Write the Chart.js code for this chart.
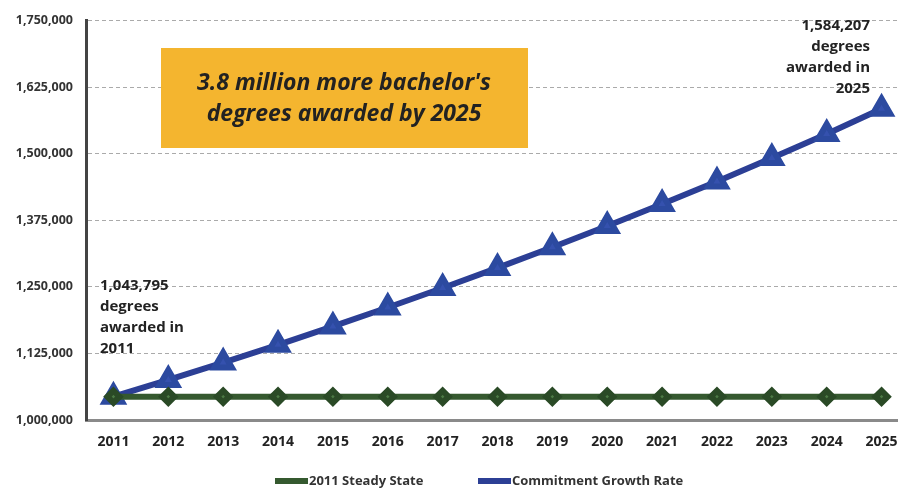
<!DOCTYPE html>
<html>
<head>
<meta charset="utf-8">
<script src="https://cdn.jsdelivr.net/npm/chart.js@4.4.0/dist/chart.umd.min.js"></script>
<style>
  html, body { margin: 0; padding: 0; background: #fff; overflow: hidden; }
  #wrap { width: 898px; height: 489px; overflow: hidden; }
</style>
</head>
<body>
<div id="wrap"><canvas id="line-degrees" width="925" height="489"></canvas></div>
<script>
var years = ["2011", "2012", "2013", "2014", "2015", "2016", "2017", "2018",
             "2019", "2020", "2021", "2022", "2023", "2024", "2025"];

var steadyState = [1043795, 1043795, 1043795, 1043795, 1043795, 1043795, 1043795, 1043795,
                   1043795, 1043795, 1043795, 1043795, 1043795, 1043795, 1043795];

var growthRate = [1043795, 1075300, 1107800, 1141200, 1175700, 1211200, 1247800, 1285500,
                  1324300, 1364300, 1405500, 1447900, 1491700, 1536700, 1584207];

var boxText = ["3.8 million more bachelor's", "degrees awarded by 2025"];
var startNote = ["1,043,795", "degrees", "awarded in", "2011"];
var endNote = ["1,584,207", "degrees", "awarded in", "2025"];

var FONT = "'Open Sans', sans-serif";

// callout box, the two notes and the legend at the bottom
var notes = {
  id: "notes",
  afterDraw: function(chart) {
    var c = chart.ctx;
    c.save();

    // yellow box
    c.fillStyle = "#F4B52F";
    c.fillRect(161, 48, 367, 100);
    c.fillStyle = "#222";
    c.font = "italic bold 23px " + FONT;
    c.textAlign = "center";
    c.textBaseline = "middle";
    c.fillText(boxText[0], 344, 83);
    c.fillText(boxText[1], 344, 114);

    c.font = "bold 15px " + FONT;
    c.fillStyle = "#222";
    c.textAlign = "left";
    for (var i = 0; i < startNote.length; i++) {
      c.fillText(startNote[i], 100, 286 + i * 21);
    }
    c.textAlign = "right";
    for (var j = 0; j < endNote.length; j++) {
      c.fillText(endNote[j], 870, 26 + j * 21);
    }

    // legend
    var ds = chart.data.datasets;
    var xs = [275, 478];
    c.font = "bold 13px " + FONT;
    c.textAlign = "left";
    for (var k = 0; k < ds.length; k++) {
      var x0 = xs[k], y0 = 481;
      c.strokeStyle = ds[k].borderColor;
      c.lineWidth = 6;
      c.beginPath();
      c.moveTo(x0, y0);
      c.lineTo(x0 + 33, y0);
      c.stroke();
      c.fillStyle = "#333";
      c.fillText(ds[k].label, x0 + 34, y0);
    }
    c.restore();
  }
};

var ctx = document.getElementById("line-degrees");

var data = {
  labels: years,
  datasets: [
    {
      label: "2011 Steady State",
      data: steadyState,
      borderColor: "#35592F",
      backgroundColor: "#35592F",
      borderWidth: 6,
      fill: false,
      lineTension: 0,
      pointStyle: "rectRot",
      pointRadius: 6,
      pointBorderColor: "#2A4A26",
      pointBackgroundColor: "#4C7A45"
    },
    {
      label: "Commitment Growth Rate",
      data: growthRate,
      borderColor: "#2C3F95",
      backgroundColor: "#2C3F95",
      borderWidth: 6,
      fill: false,
      lineTension: 0,
      pointStyle: "triangle",
      pointRadius: 10,
      pointBorderColor: "#2C4AA0",
      pointBackgroundColor: "#3551AE"
    }
  ]
};

var options = {
  responsive: false,
  animation: false,
  layout: { padding: { left: 4, right: 0, top: 14, bottom: 39 } },
  plugins: {
    legend: { display: false },
    tooltip: { enabled: false }
  },
  scales: {
    x: {
      offset: true,
      grid: { display: false, drawTicks: false },
      border: { display: true, color: "#8a8a8a", width: 3 },
      ticks: {
        color: "#222",
        padding: 14,
        maxRotation: 0,
        font: { family: FONT, size: 14, weight: "bold" }
      },
      afterFit: function(scale) { scale.height = 30; }
    },
    y: {
      min: 1000000,
      max: 1750000,
      border: { display: true, color: "#444", width: 3, dash: [4, 3] },
      grid: { color: "#aaa", lineWidth: 1, drawTicks: false },
      ticks: {
        stepSize: 125000,
        padding: 13,
        color: "#333",
        font: { family: FONT, size: 12.5, weight: "bold" },
        callback: function(v) { return v.toLocaleString("en-US"); }
      },
      afterFit: function(scale) { scale.width = 82; }
    }
  }
};

var chart = new Chart(ctx, {
  type: "line",
  data: data,
  options: options,
  plugins: [notes]
});
</script>
</body>
</html>
